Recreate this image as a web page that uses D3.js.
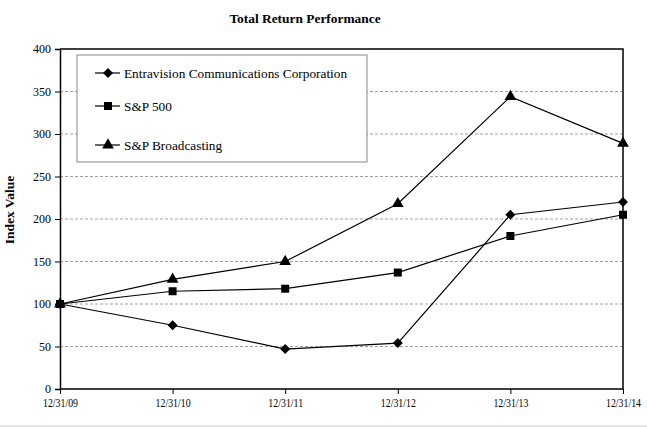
<!DOCTYPE html>
<html>
<head>
<meta charset="utf-8">
<script src="https://cdn.jsdelivr.net/npm/d3@7"></script>
<style>
  body { margin: 0; background: #fff; }
  text { font-family: "Liberation Serif", "Times New Roman", serif; fill: #000; }
</style>
</head>
<body>
<div class="chart"></div>
<script>
const dates = ['12/31/09', '12/31/10', '12/31/11', '12/31/12', '12/31/13', '12/31/14'];
const entravision = [100, 75, 47, 54, 205, 220];
const sp500 = [100, 115, 118, 137, 180, 205];
const spBroadcasting = [100, 129, 150, 218, 344, 289];
const yTicks = [0, 50, 100, 150, 200, 250, 300, 350, 400];

// diamond as a rotated square, like the Excel marker
const diamond = {
    draw(ctx, size) {
        const r = Math.sqrt(size) / 2;
        ctx.moveTo(0, -r);
        ctx.lineTo(r, 0);
        ctx.lineTo(0, r);
        ctx.lineTo(-r, 0);
        ctx.closePath();
    }
};

const series = [
    { name: 'Entravision Communications Corporation', values: entravision, symbol: diamond, size: 100 },
    { name: 'S&P 500', values: sp500, symbol: d3.symbolSquare, size: 64 },
    { name: 'S&P Broadcasting', values: spBroadcasting, symbol: d3.symbolTriangle, size: 60 }
];

const margin = { top: 49, right: 24, bottom: 38, left: 60 };
const width = 647, height = 427;

const svg = d3.select('.chart')
  .append('svg')
    .attr('width', width)
    .attr('height', height);

const x = d3.scalePoint()
    .domain(dates)
    .range([margin.left, width - margin.right]);

const y = d3.scaleLinear()
    .domain([0, 400])
    .range([height - margin.bottom, margin.top]);

// gridlines
svg.append('g')
    .selectAll('line')
    .data(yTicks.filter(d => d > 0 && d < 400))
    .enter()
    .append('line')
        .attr('x1', margin.left)
        .attr('x2', width - margin.right)
        .attr('y1', d => y(d))
        .attr('y2', d => y(d))
        .attr('stroke', '#888')
        .attr('stroke-width', 0.8)
        .attr('stroke-dasharray', '3,2');

// frame top and right
svg.append('path')
    .attr('d', `M${margin.left},${y(400)}H${width - margin.right}V${y(0)}`)
    .attr('fill', 'none')
    .attr('stroke', '#000')
    .attr('stroke-width', 1.5);

const yAxis = svg.append('g')
    .attr('transform', `translate(${margin.left},0)`)
    .call(d3.axisLeft(y).tickValues(yTicks).tickSize(5).tickPadding(4));

const xAxis = svg.append('g')
    .attr('transform', `translate(0,${y(0)})`)
    .call(d3.axisBottom(x).tickSize(5).tickPadding(4));

[yAxis, xAxis].forEach(a => {
    a.attr('font-family', null).attr('font-size', null);
    a.select('.domain').attr('stroke', '#000').attr('stroke-width', 1.5);
    a.selectAll('.tick line').attr('stroke', '#000');
    a.selectAll('text')
        .style('font-size', '12px')
        .attr('fill', '#000');
});
xAxis.select('.domain').attr('d', `M${margin.left},0H${width - margin.right}`);
xAxis.selectAll('.tick text')
    .attr('textLength', 35)
    .attr('lengthAdjust', 'spacingAndGlyphs');

const line = d3.line()
    .x((d, i) => x(dates[i]))
    .y(d => y(d));

const groups = svg.selectAll('.series')
    .data(series)
    .enter()
    .append('g')
        .classed('series', true);

groups.append('path')
    .attr('d', d => line(d.values))
    .attr('fill', 'none')
    .attr('stroke', '#000')
    .attr('stroke-width', 1.2);

groups.selectAll('.mark')
    .data(d => d.values.map((v, i) => ({ v, i, s: d })))
    .enter()
    .append('path')
        .attr('transform', d => `translate(${x(dates[d.i])},${y(d.v)})`)
        .attr('d', d => d3.symbol().type(d.s.symbol).size(d.s.size)())
        .attr('fill', '#000');

// legend
const legend = svg.append('g');
legend.append('rect')
    .attr('x', 77)
    .attr('y', 55)
    .attr('width', 290)
    .attr('height', 107)
    .attr('fill', '#fff')
    .attr('stroke', '#888')
    .attr('stroke-width', 1);

const rows = legend.selectAll('.row')
    .data(series)
    .enter()
    .append('g')
        .attr('transform', (d, i) => `translate(0,${[73, 106, 145][i]})`);

rows.append('line')
    .attr('x1', 95).attr('x2', 120)
    .attr('stroke', '#000').attr('stroke-width', 1.2);
rows.append('path')
    .attr('transform', 'translate(108,0)')
    .attr('d', d => d3.symbol().type(d.symbol).size(d.size)())
    .attr('fill', '#000');
rows.append('text')
    .attr('x', 124)
    .attr('dy', '0.35em')
    .style('font-size', '13.3px')
    .text(d => d.name);

svg.append('text')
    .attr('x', 305)
    .attr('y', 23)
    .attr('text-anchor', 'middle')
    .style('font-weight', 'bold')
    .style('font-size', '13.4px')
    .text('Total Return Performance');

svg.append('text')
    .attr('transform', 'translate(9,210) rotate(-90)')
    .attr('text-anchor', 'middle')
    .attr('dy', '0.35em')
    .style('font-weight', 'bold')
    .style('font-size', '13.5px')
    .text('Index Value');

svg.append('line')
    .attr('x1', 0).attr('x2', width)
    .attr('y1', 426).attr('y2', 426)
    .attr('stroke', '#ccc');
</script>
</body>
</html>
